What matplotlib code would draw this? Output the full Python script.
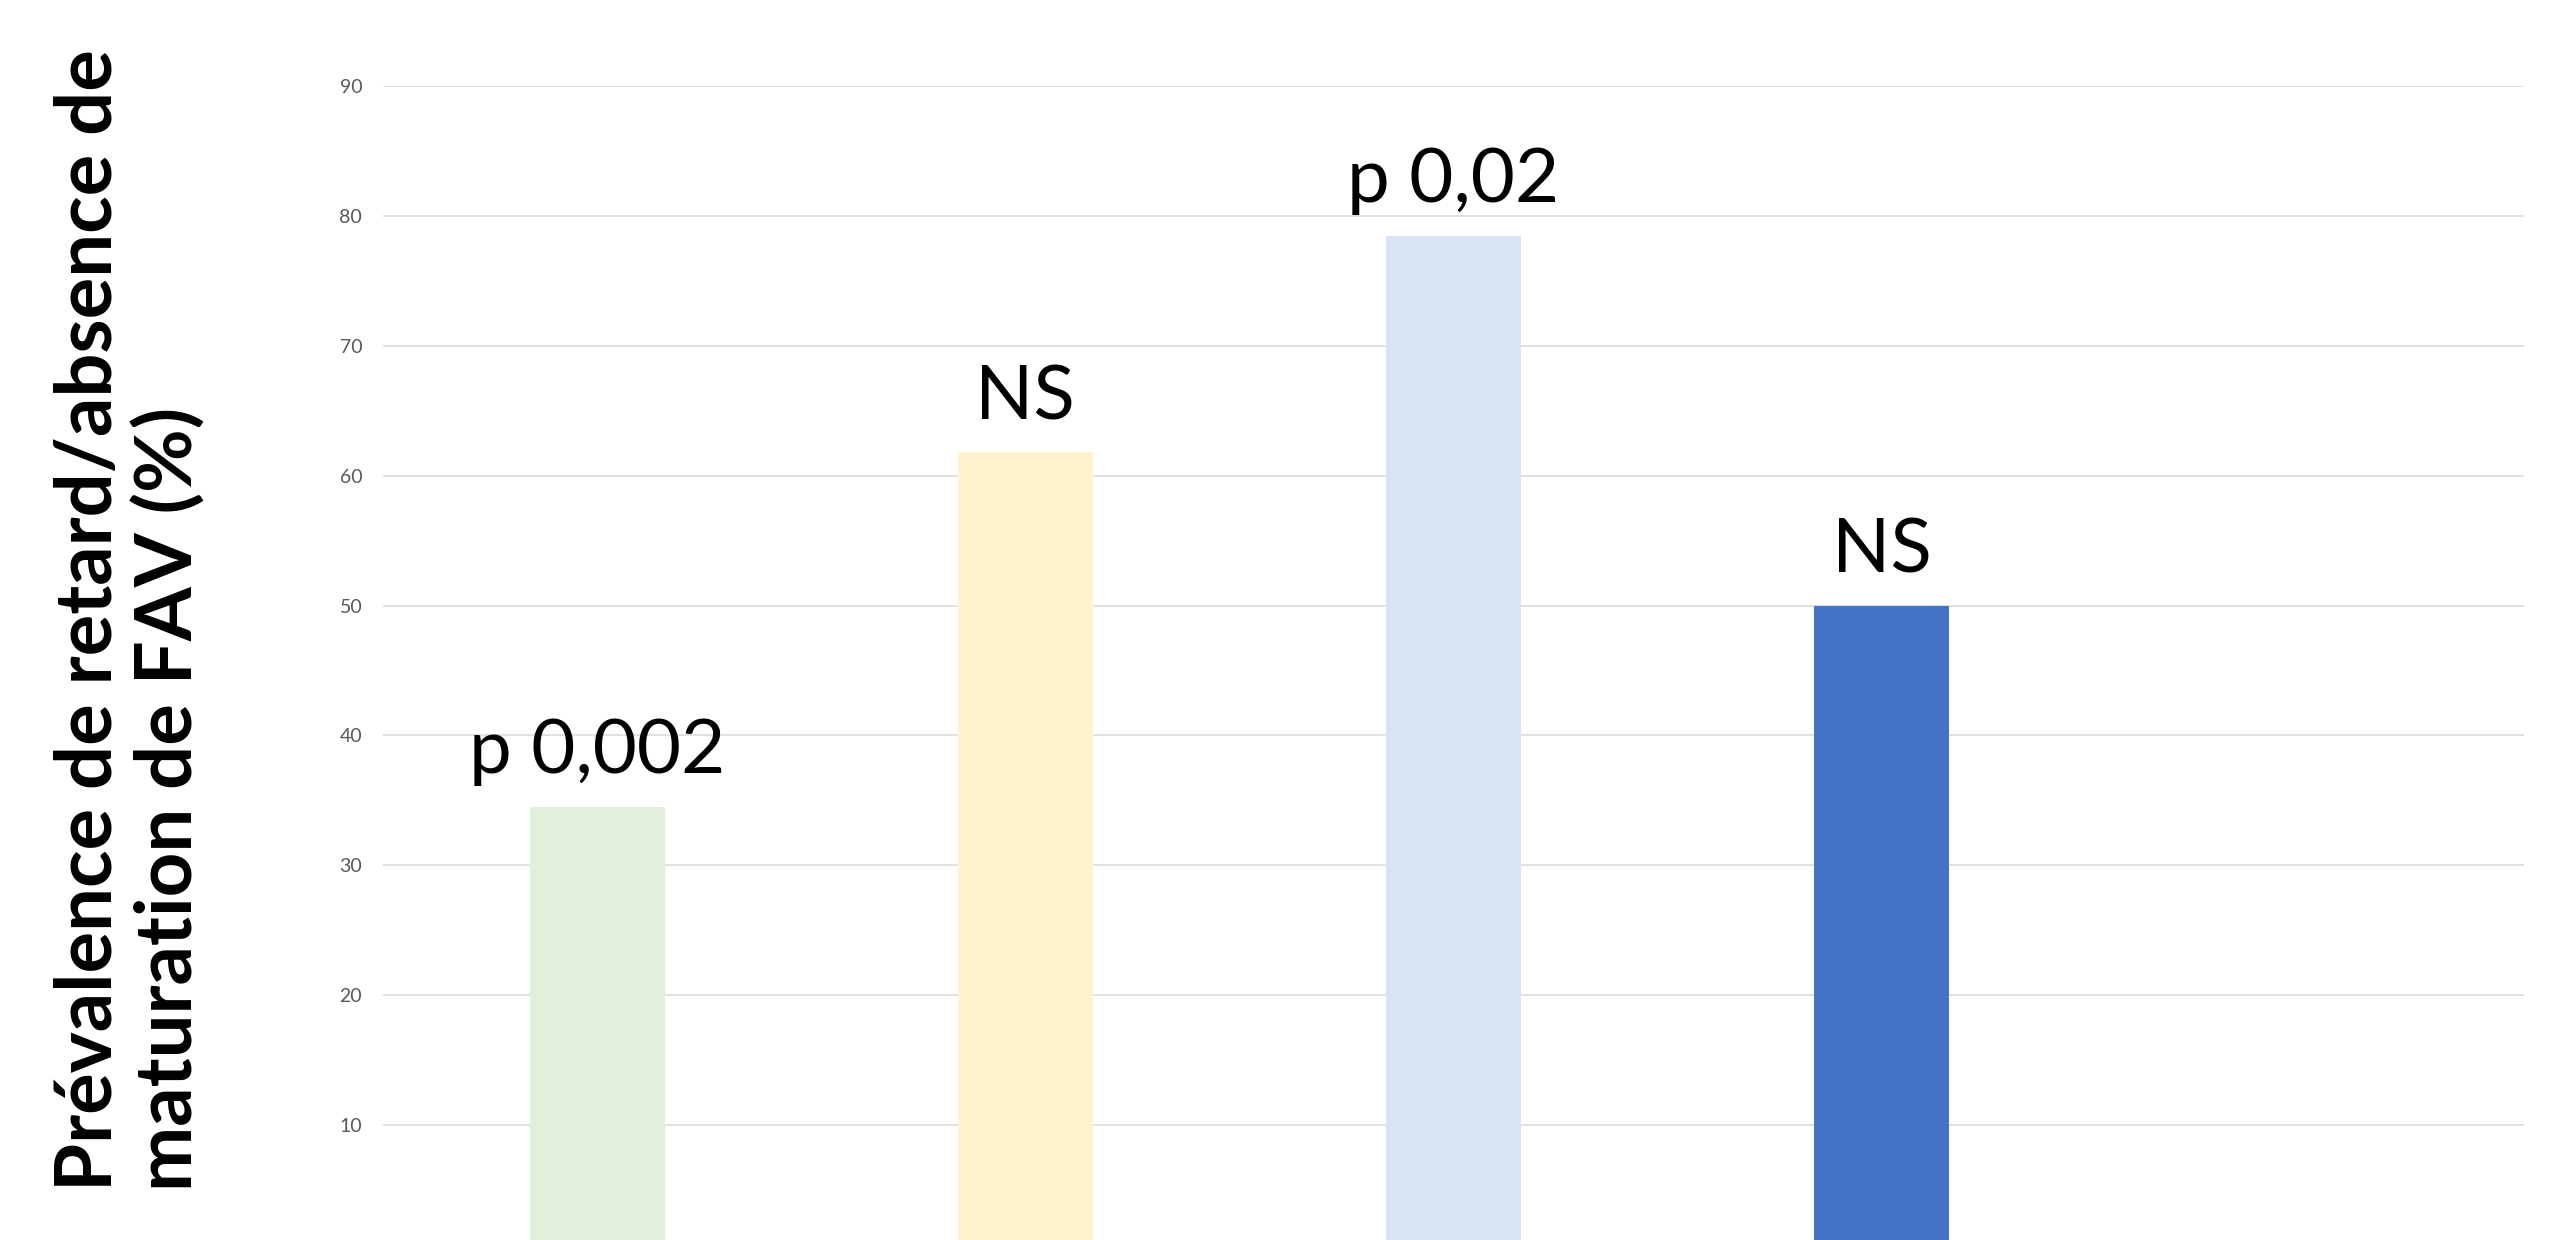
import numpy as np
import matplotlib
matplotlib.use('Agg')
import matplotlib.pyplot as plt

# Données
groupes = ['G1', 'G2', 'G3', 'G4', '']
prevalence = [34.5, 61.8, 78.5, 50.0]
annotations = ['p 0,002', 'NS', 'p 0,02', 'NS']
couleurs = ['#E2EFDA', '#FFF2CC', '#DAE3F3', '#4472C4']
graduations = [10, 20, 30, 40, 50, 60, 70, 80, 90]

plt.rcParams['font.family'] = ['Lato', 'DejaVu Sans']

fig = plt.figure(figsize=(25.5, 12.4), dpi=100)
ax = fig.add_axes([0.1502, 0.0, 0.8396, 0.9303])

x = np.arange(len(prevalence))
ax.bar(x, prevalence, width=0.315, color=couleurs, zorder=2)

# étiquettes au-dessus des barres
for xi, val, txt in zip(x, prevalence, annotations):
    ax.annotate(txt, xy=(xi, val), xytext=(0, 24), textcoords='offset points',
                ha='center', va='baseline', fontsize=55, color='black')

# axes
ax.set_xlim(-0.5, len(groupes) - 0.5)
ax.set_ylim(1.12, 90)
ax.set_yticks(graduations)
ax.set_xticks([])
ax.tick_params(axis='y', length=0, pad=15, labelsize=14, labelcolor='#595959')
ax.grid(axis='y', color='#D9D9D9', linewidth=1.1, zorder=0)
for s in ax.spines.values():
    s.set_visible(False)

fig.text(0.051, 0.5, 'Prévalence de retard/absence de\nmaturation de FAV (%)',
         rotation=90, ha='center', va='center', multialignment='left',
         fontsize=56, fontweight='bold', linespacing=1.1)

fig.savefig('out.png', dpi=100, facecolor='white')
